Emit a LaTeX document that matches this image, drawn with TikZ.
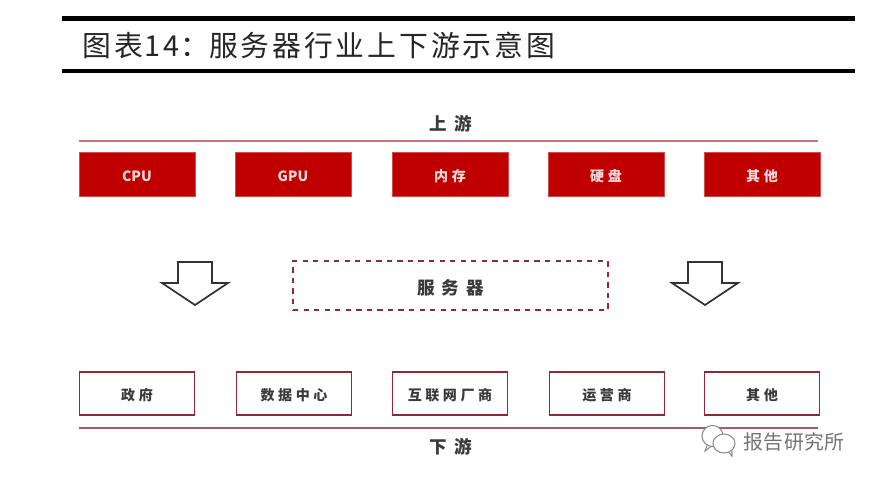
\documentclass[tikz,border=0pt]{standalone}
\usepackage{fontspec}
\setmainfont{Noto Sans CJK SC}
\newfontfamily\cjktitle[LetterSpace=10]{Noto Sans CJK SC}
\newfontfamily\cjkbox[LetterSpace=25]{Noto Sans CJK SC}
\newfontfamily\cjkwide[LetterSpace=40]{Noto Sans CJK SC}
\newfontfamily\cjkmark[LetterSpace=3]{Noto Sans CJK SC}
\usepackage{xcolor}
\definecolor{boxred}{HTML}{C00000}
\definecolor{edgered}{HTML}{8E2A38}
\definecolor{rulered}{HTML}{C9737A}
\definecolor{inkgray}{HTML}{3A3A3A}
\usepackage{tikz}
\tikzset{
  upbox/.style={fill=boxred,draw=boxred!70!white,line width=0.4pt,minimum width=2.32cm,minimum height=0.88cm,inner sep=0pt,text=red!15!white,text height=8pt,text depth=0pt,font=\cjkbox\bfseries\fontsize{8}{8}\selectfont},
  downbox/.style={fill=white,draw=edgered,line width=1.1pt,minimum width=2.3cm,minimum height=0.86cm,inner sep=0pt,text=inkgray,text height=8pt,text depth=0pt,font=\cjkbox\bfseries\fontsize{8}{8}\selectfont},
  midbox/.style={draw=edgered,dashed,line width=1.2pt,minimum width=6.3cm,minimum height=0.98cm,inner sep=0pt,text=inkgray,text height=10pt,text depth=0pt,font=\cjkwide\bfseries\fontsize{10}{10}\selectfont},
  streamlabel/.style={inner sep=0pt,text=inkgray,font=\cjkwide\bfseries\fontsize{10}{10}\selectfont},
  blockarrow/.style={draw=black!80,fill=white,line width=1pt,line join=miter},
}
\begin{document}
\begin{tikzpicture}[x=0.02cm,y=-0.02cm]
\useasboundingbox (0,0) rectangle (875,480);

%title
\fill[black] (62,15.5) rectangle (855,20.5);
\fill[black] (62,68.5) rectangle (855,73);
\node[anchor=west,inner sep=0pt,text=black!85,font=\fontsize{16.4}{16.4}\selectfont] (title) at (82,45) {{\cjktitle 图表}\kern1pt{\cjktitle 14}\kern0.5pt：{\cjktitle 服务器行业上下游示意图}};

%upstream
\node[streamlabel] (uplabel) at (451,124) {上游};
\coordinate (upl) at (79,141);
\coordinate (upr) at (818,141);
\draw[rulered,line width=1pt] (upl)--(upr);
\foreach \x/\name/\txt in {137/cpu/{\rmfamily CPU},293/gpu/{\rmfamily GPU},450/mem/内存,606/disk/硬盘,762/other/其他}
  \node[upbox] (\name) at (\x,174) {\txt};

%server
\node[midbox] (server) at (450.5,285.5) {服务器};
\draw[blockarrow] (178,262)--(212,262)--(212,283)--(228,283)--(195,305)--(162,283)--(178,283)--cycle;
\draw[blockarrow] (688,262)--(722,262)--(722,283)--(738,283)--(705,305)--(672,283)--(688,283)--cycle;

%downstream
\foreach \x/\name/\txt in {137/gov/政府,294/data/数据中心,450/net/互联网厂商,607/tel/运营商,762/misc/其他}
  \node[downbox] (\name) at (\x,393.5) {\txt};
\coordinate (downl) at (79,428);
\coordinate (downr) at (818,428);
\draw[rulered!80!black,line width=1pt] (downl)--(downr);
\node[streamlabel] (downlabel) at (451,447) {下游};

%watermark
\draw[black!45,fill=white,line width=0.6pt] (712.5,436) ellipse (10.5 and 10.5);
\draw[black!45,line width=0.6pt] (707,445.5)--(705,451)--(711,446.5);
\draw[black!45,fill=white,line width=0.6pt] (724,443.5) ellipse (11 and 9.5);
\draw[black!45,line width=0.6pt] (729,452.5)--(732,456)--(732,451);
\node[inner sep=0pt,text=black!55,font=\cjkmark\fontsize{11.3}{11.3}\selectfont] (mark) at (794,442) {报告研究所};
\end{tikzpicture}
\end{document}
